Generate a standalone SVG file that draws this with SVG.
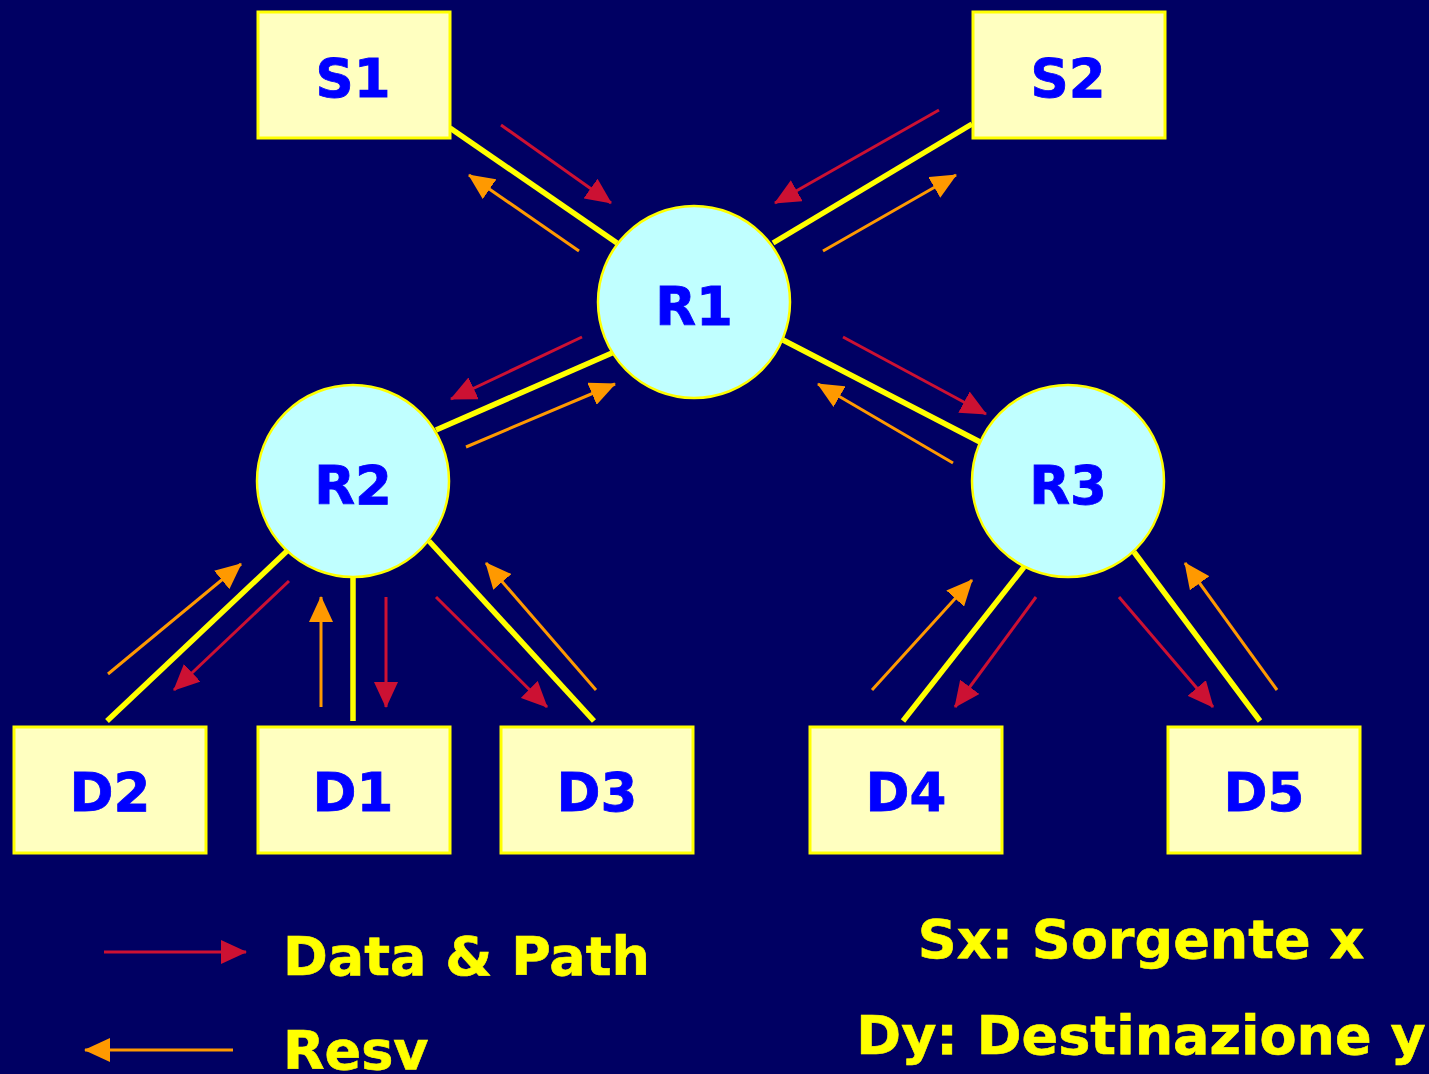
<svg xmlns="http://www.w3.org/2000/svg" width="1429" height="1074" viewBox="0 0 1429 1074">
<defs>
<style>
.box{fill:#FFFFC0;stroke:#FFFF00;stroke-width:3}
.rt{fill:#C0FFFF;stroke:#FFFF00;stroke-width:2.5}
.lbl{font-family:"DejaVu Sans",Verdana,sans-serif;font-weight:bold;font-size:53px;fill:#0000FF;stroke:#0000FF;stroke-width:0.8;text-anchor:middle}
.link{stroke:#FFFF00;stroke-width:5.5;fill:none}
.data{stroke:#CC1133;stroke-width:3;fill:none;marker-end:url(#mr)}
.resv{stroke:#FF9900;stroke-width:3;fill:none;marker-end:url(#mo)}
.leg{font-family:"DejaVu Sans",Verdana,sans-serif;font-weight:bold;font-size:54px;fill:#FFFF00;stroke:#FFFF00;stroke-width:0.6}
</style>
<marker id="mr" viewBox="0 0 26 24" refX="25" refY="12" markerWidth="26" markerHeight="24" markerUnits="userSpaceOnUse" orient="auto"><path d="M0,0 L26,12 L0,24 Z" fill="#CC1133"/></marker>
<marker id="mo" viewBox="0 0 26 24" refX="25" refY="12" markerWidth="26" markerHeight="24" markerUnits="userSpaceOnUse" orient="auto"><path d="M0,0 L26,12 L0,24 Z" fill="#FF9900"/></marker>
</defs>
<rect width="1429" height="1074" fill="#000063"/>
<g id="connectors">
<line class="link" x1="450" y1="128" x2="617" y2="243"/>
<line class="link" x1="972" y1="124" x2="773" y2="243"/>
<line class="link" x1="612" y1="353" x2="436" y2="430"/>
<line class="link" x1="783" y1="340" x2="980" y2="442"/>
<line class="link" x1="287" y1="551" x2="107" y2="721"/>
<line class="link" x1="353" y1="577" x2="353" y2="721"/>
<line class="link" x1="429" y1="541" x2="594" y2="721"/>
<line class="link" x1="1024" y1="567" x2="903" y2="721"/>
<line class="link" x1="1134" y1="552" x2="1260" y2="721"/>
<line class="data" x1="501" y1="125" x2="611" y2="203"/>
<line class="resv" x1="579" y1="251" x2="469" y2="175"/>
<line class="data" x1="939" y1="110" x2="775" y2="203"/>
<line class="resv" x1="823" y1="251" x2="956" y2="175"/>
<line class="data" x1="582" y1="337" x2="451" y2="399"/>
<line class="resv" x1="466" y1="447" x2="615" y2="384"/>
<line class="data" x1="843" y1="337" x2="986" y2="414"/>
<line class="resv" x1="953" y1="463" x2="818" y2="384"/>
<line class="resv" x1="108" y1="674" x2="241" y2="564"/>
<line class="data" x1="289" y1="581" x2="174" y2="690"/>
<line class="resv" x1="321" y1="707" x2="321" y2="597"/>
<line class="data" x1="386" y1="597" x2="386" y2="707"/>
<line class="data" x1="436" y1="597" x2="547" y2="707"/>
<line class="resv" x1="596" y1="690" x2="486" y2="563"/>
<line class="resv" x1="872" y1="690" x2="972" y2="580"/>
<line class="data" x1="1036" y1="597" x2="955" y2="707"/>
<line class="data" x1="1119" y1="597" x2="1213" y2="707"/>
<line class="resv" x1="1277" y1="690" x2="1185" y2="563"/>
</g>
<g id="S1"><rect class="box" x="258" y="12" width="192" height="126"/><text class="lbl" x="353" y="97">S1</text></g>
<g id="S2"><rect class="box" x="973" y="12" width="192" height="126"/><text class="lbl" x="1068" y="97">S2</text></g>
<g id="R1"><circle class="rt" cx="694" cy="302" r="96"/><text class="lbl" x="694" y="325">R1</text></g>
<g id="R2"><circle class="rt" cx="353" cy="481" r="96"/><text class="lbl" x="353" y="504">R2</text></g>
<g id="R3"><circle class="rt" cx="1068" cy="481" r="96"/><text class="lbl" x="1068" y="504">R3</text></g>
<g id="D2"><rect class="box" x="14" y="727" width="192" height="126"/><text class="lbl" x="110" y="811">D2</text></g>
<g id="D1"><rect class="box" x="258" y="727" width="192" height="126"/><text class="lbl" x="353" y="811">D1</text></g>
<g id="D3"><rect class="box" x="501" y="727" width="192" height="126"/><text class="lbl" x="597" y="811">D3</text></g>
<g id="D4"><rect class="box" x="810" y="727" width="192" height="126"/><text class="lbl" x="906" y="811">D4</text></g>
<g id="D5"><rect class="box" x="1168" y="727" width="192" height="126"/><text class="lbl" x="1264" y="811">D5</text></g>
<g id="legend">
<line class="data" x1="104" y1="952" x2="246" y2="952"/>
<text class="leg" x="283" y="975">Data &amp; Path</text>
<line class="resv" x1="233" y1="1050" x2="85" y2="1050"/>
<text class="leg" x="283" y="1069">Resv</text>
<text class="leg" x="1141" y="958" text-anchor="middle">Sx: Sorgente x</text>
<text class="leg" x="1141" y="1054" text-anchor="middle">Dy: Destinazione y</text>
</g>
</svg>
